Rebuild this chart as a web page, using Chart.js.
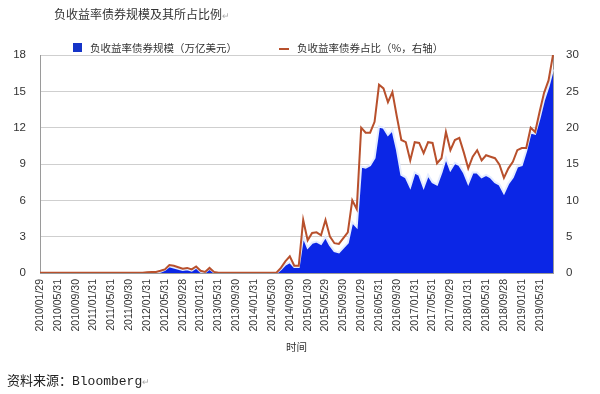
<!DOCTYPE html>
<html>
<head>
<meta charset="utf-8">
<script src="https://cdn.jsdelivr.net/npm/chart.js@4/dist/chart.umd.min.js"></script>
<style>
  html, body { margin: 0; padding: 0; background: #fff; }
  #wrap { position: relative; width: 600px; height: 394px; overflow: hidden; background: #fff; }
  #c { position: absolute; left: 0; top: 0; }
  .txt { position: absolute; font-family: "Noto Sans CJK SC", sans-serif; color: #333; white-space: nowrap; }
  #title { left: 54px; top: 5px; font-size: 12px; }
  #legend { left: 72px; top: 40px; font-size: 10.5px; }
  .lg { position: absolute; top: 0; white-space: nowrap; }
  .sw { position: absolute; }
  #source { left: 7px; top: 370px; font-size: 13px; color: #222; }
  .mono { font-family: "Liberation Mono", monospace; }
  .ret { color: #aaa; font-size: 9px; }
</style>
</head>
<body>
<div id="wrap">
  <canvas id="c" width="600" height="394"></canvas>
  <div id="title" class="txt">负收益率债券规模及其所占比例<span class="ret">↵</span></div>
  <div id="legend" class="txt">
    <span class="sw" id="sw1" style="left:1px;top:3px;width:9px;height:9px;"></span>
    <span class="lg" style="left:18px;">负收益率债券规模（万亿美元）</span>
    <span class="sw" id="sw2" style="left:207px;top:8px;width:10px;height:2px;"></span>
    <span class="lg" style="left:225px;">负收益率债券占比（%，右轴）</span>
  </div>
  <div id="source" class="txt">资料来源：<span class="mono">Bloomberg</span><span class="ret">↵</span></div>
</div>
<script>
const categories = [
 '2010/01','2010/02','2010/03','2010/04','2010/05','2010/06','2010/07','2010/08','2010/09','2010/10','2010/11','2010/12',
 '2011/01','2011/02','2011/03','2011/04','2011/05','2011/06','2011/07','2011/08','2011/09','2011/10','2011/11','2011/12',
 '2012/01','2012/02','2012/03','2012/04','2012/05','2012/06','2012/07','2012/08','2012/09','2012/10','2012/11','2012/12',
 '2013/01','2013/02','2013/03','2013/04','2013/05','2013/06','2013/07','2013/08','2013/09','2013/10','2013/11','2013/12',
 '2014/01','2014/02','2014/03','2014/04','2014/05','2014/06','2014/07','2014/08','2014/09','2014/10','2014/11','2014/12',
 '2015/01','2015/02','2015/03','2015/04','2015/05','2015/06','2015/07','2015/08','2015/09','2015/10','2015/11','2015/12',
 '2016/01','2016/02','2016/03','2016/04','2016/05','2016/06','2016/07','2016/08','2016/09','2016/10','2016/11','2016/12',
 '2017/01','2017/02','2017/03','2017/04','2017/05','2017/06','2017/07','2017/08','2017/09','2017/10','2017/11','2017/12',
 '2018/01','2018/02','2018/03','2018/04','2018/05','2018/06','2018/07','2018/08','2018/09','2018/10','2018/11','2018/12',
 '2019/01','2019/02','2019/03','2019/04','2019/05','2019/06','2019/07','2019/08'
];
const tickLabels = [
 '2010/01/29','2010/05/31','2010/09/30','2011/01/31','2011/05/31','2011/09/30','2012/01/31','2012/05/31',
 '2012/09/28','2013/01/31','2013/05/31','2013/09/30','2014/01/31','2014/05/30','2014/09/30','2015/01/30',
 '2015/05/29','2015/09/30','2016/01/29','2016/05/31','2016/09/30','2017/01/31','2017/05/31','2017/09/29',
 '2018/01/31','2018/05/31','2018/09/28','2019/01/31','2019/05/31'
];
// 负收益率债券规模（万亿美元）
const sizeValues = [
 0,0,0,0,0,0,0,0,0,0,0,0,
 0,0,0,0,0,0,0,0,0,0,0,0,
 0.02,0.05,0.05,0.1,0.25,0.55,0.45,0.35,0.25,0.3,0.2,0.45,
 0.1,0.05,0.35,0.05,0,0,0,0,0,0,0,0,
 0,0,0,0,0,0,0.3,0.7,0.9,0.5,0.5,3.0,
 2.1,2.5,2.6,2.4,3.0,2.3,1.8,1.7,2.1,2.5,4.2,3.8,
 8.8,8.7,8.9,9.5,12.1,12.0,11.4,11.8,10.2,8.1,7.9,7.1,
 8.3,8.1,7.1,8.1,7.5,7.3,8.3,9.5,8.5,9.1,8.9,8.3,
 7.4,8.3,8.3,7.9,8.1,7.9,7.5,7.3,6.6,7.4,7.9,8.8,
 8.9,10.1,11.6,11.5,12.8,14.3,15.4,16.8
];
// 负收益率债券占比（%，右轴）
const shareValues = [
 0.05,0.05,0.05,0.05,0.05,0.05,0.05,0.05,0.05,0.05,0.05,0.05,
 0.05,0.05,0.05,0.05,0.05,0.05,0.05,0.05,0.05,0.05,0.05,0.05,
 0.1,0.15,0.15,0.3,0.5,1.1,1.0,0.8,0.6,0.7,0.5,0.9,
 0.3,0.15,0.7,0.15,0.05,0.05,0.05,0.05,0.05,0.05,0.05,0.05,
 0.05,0.05,0.05,0.05,0.05,0.05,0.7,1.6,2.3,1.0,1.0,7.3,
 4.5,5.5,5.6,5.2,7.3,5.0,4.1,4.0,4.8,5.6,10.0,8.8,
 20.0,19.3,19.3,20.8,25.9,25.4,23.5,24.9,21.5,18.3,18.0,15.5,
 18.0,17.9,16.5,18.0,17.9,15.1,15.8,19.4,16.9,18.3,18.6,16.6,
 14.4,16.0,16.9,15.5,16.2,16.0,15.8,14.9,13.1,14.4,15.3,16.9,
 17.2,17.2,20.0,19.4,22.2,24.8,26.5,30.0
];
const leftTicks = [0,3,6,9,12,15,18];
const rightTicks = [0,5,10,15,20,25,30];

const BLUE = '#0b26e6';
const RED = '#b8502c';
document.getElementById('sw1').style.background = '#1534c8';
document.getElementById('sw2').style.background = RED;

const tickFont = { family: 'Liberation Sans, Arial, sans-serif', size: 11.5 };

new Chart(document.getElementById('c'), {
  type: 'line',
  data: {
    labels: categories,
    datasets: [
      {
        label: '负收益率债券占比（%，右轴）',
        data: shareValues,
        yAxisID: 'y1',
        borderColor: RED,
        borderWidth: 2,
        pointRadius: 0,
        tension: 0,
        fill: false,
        order: 0
      },
      {
        label: '负收益率债券规模（万亿美元）',
        data: sizeValues,
        yAxisID: 'y',
        borderColor: '#e4ecff',
        borderWidth: 2,
        backgroundColor: BLUE,
        pointRadius: 0,
        tension: 0,
        fill: 'origin',
        order: 1
      }
    ]
  },
  options: {
    responsive: false,
    animation: false,
    devicePixelRatio: 1,
    layout: { padding: { top: 55, left: 0, right: 0, bottom: 36 } },
    plugins: { legend: { display: false }, tooltip: { enabled: false }, title: { display: false } },
    scales: {
      x: {
        offset: false,
        grid: { display: false, drawTicks: false },
        border: { display: true, color: '#9a9a9a', width: 1 },
        ticks: {
          autoSkip: false,
          maxRotation: 90,
          minRotation: 90,
          padding: 6,
          color: '#333',
          font: { family: 'Liberation Sans, Arial, sans-serif', size: 10.5 },
          callback: (v, i) => (i % 4 === 0 ? tickLabels[i / 4] : '')
        },
        title: {
          display: true,
          text: '时间',
          color: '#333',
          font: { family: 'Noto Sans CJK SC, sans-serif', size: 10.5 },
          padding: { top: 0, bottom: 5 }
        },
        afterFit: s => { s.height = 85; }
      },
      y: {
        position: 'left',
        min: 0, max: 18,
        afterBuildTicks: s => { s.ticks = leftTicks.map(v => ({ value: v })); },
        grid: { color: '#cfcfcf', drawTicks: false, lineWidth: 1 },
        border: { display: true, color: '#9a9a9a' },
        ticks: { color: '#333', font: tickFont, padding: 14 },
        afterFit: s => { s.width = 40; }
      },
      y1: {
        position: 'right',
        min: 0, max: 30,
        afterBuildTicks: s => { s.ticks = rightTicks.map(v => ({ value: v })); },
        grid: { display: false, drawTicks: false },
        border: { display: true, color: '#9a9a9a' },
        ticks: { color: '#333', font: tickFont, padding: 13 },
        afterFit: s => { s.width = 47; }
      }
    }
  }
});
</script>
</body>
</html>
